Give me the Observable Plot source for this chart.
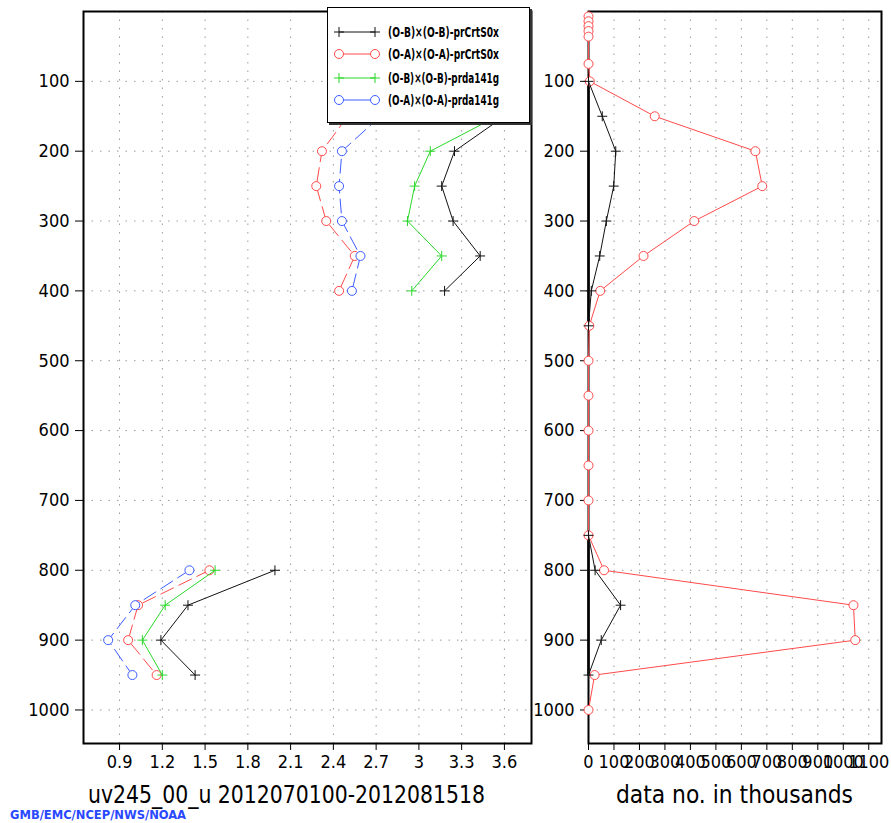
<!DOCTYPE html>
<html>
<head>
<meta charset="utf-8">
<script src="https://cdn.jsdelivr.net/npm/d3@7"></script>
<script src="https://cdn.jsdelivr.net/npm/@observablehq/plot@0.6"></script>
<style>
  html, body { margin: 0; padding: 0; background: #fff; }
  body { width: 891px; height: 823px; position: relative; overflow: hidden; }
  #left, #right, #legend { position: absolute; top: 0; }
  #left { left: 0; }
  #right { left: 500px; }
  #legend { left: 327px; top: 7px; width: 201px; height: 114px; background: #fff;
            border: 1px solid #000; box-shadow: 2px 2px 0 #333; }
  svg { overflow: visible; }
</style>
</head>
<body>
<div id="left"></div>
<div id="right"></div>
<div id="legend"></div>
<script>
// ---------------- data ----------------
const yTicks = [100, 200, 300, 400, 500, 600, 700, 800, 900, 1000];
const xTicksLeft = [0.9, 1.2, 1.5, 1.8, 2.1, 2.4, 2.7, 3, 3.3, 3.6];
const xTicksRight = [0, 100, 200, 300, 400, 500, 600, 700, 800, 900, 1000, 1100];

const levelsLeft = [150, 200, 250, 300, 350, 400, 800, 850, 900, 950];
const obPrCrt = [3.60, 3.25, 3.16, 3.24, 3.43, 3.18, 1.99, 1.38, 1.19, 1.43];
const oaPrCrt = [2.50, 2.32, 2.28, 2.35, 2.55, 2.44, 1.53, 1.03, 0.96, 1.16];
const obPrda  = [3.55, 3.08, 2.97, 2.92, 3.16, 2.95, 1.57, 1.22, 1.06, 1.20];
const oaPrda  = [2.73, 2.46, 2.44, 2.46, 2.59, 2.53, 1.39, 1.01, 0.82, 0.99];

const levelsRed = [7, 14, 21, 28, 36, 75, 100, 150, 200, 250, 300, 350, 400, 450, 500,
                   550, 600, 650, 700, 750, 800, 850, 900, 950, 1000];
const countRed  = [0, 0, 0, 0, 0, 0, 5, 260, 655, 682, 415, 216, 46, 3, 0,
                   0, 0, 0, 0, 0, 61, 1040, 1047, 24, 0];
const levelsBlack = [100, 150, 200, 250, 300, 350, 400, 450, 750, 800, 850, 900, 950];
const countBlack  = [0, 54, 107, 99, 70, 44, 11, 0, 0, 26, 126, 50, 0];
const countZero   = [0, 0, 0, 0, 0, 0, 0, 0, 0, 0, 0, 0, 0];

const seriesNames = ["(O-B)×(O-B)-prCrtS0x", "(O-A)×(O-A)-prCrtS0x",
                     "(O-B)×(O-B)-prda141g", "(O-A)×(O-A)-prda141g"];
const seriesColors = ["#111111", "#ff4a4a", "#2ad82a", "#3d5cff"];
const seriesSymbols = ["plus", "circle", "plus", "circle"];
const seriesDash = [null, "14,6", null, "14,6"];

const xTitleLeft = "uv245_00_u 2012070100-2012081518";
const xTitleRight = "data no. in thousands";
const caption = "GMB/EMC/NCEP/NWS/NOAA";

// ---------------- helpers ----------------
const FONT = '"Liberation Sans Narrow","DejaVu Sans Condensed","DejaVu Sans",sans-serif';
const part = p => (p < 600 ? "upper" : "lower");
const leftValues = [obPrCrt, oaPrCrt, obPrda, oaPrda];
const leftRows = leftValues.map((vals, i) =>
  levelsLeft.map((p, j) => ({p, v: vals[j], part: part(p), s: i})));

const gridStyle = {stroke: "#9a9a9a", strokeOpacity: 1, strokeDasharray: "1.5,7"};
const PLUS_R = 3.3;

function seriesMarks(rows, i) {
  const c = seriesColors[i];
  const marks = [Plot.line(rows, {x: "v", y: "p", z: "part", stroke: c, strokeWidth: 1,
    strokeDasharray: seriesDash[i] || undefined})];
  if (seriesSymbols[i] === "plus") {
    marks.push(Plot.dot(rows, {x: "v", y: "p", symbol: "plus", r: PLUS_R, stroke: c, strokeWidth: 1}));
  } else {
    marks.push(Plot.dot(rows, {x: "v", y: "p", r: 4.5, stroke: c, fill: "white", strokeWidth: 1}));
  }
  return marks;
}

// ---------------- left panel ----------------
const left = Plot.plot({
  width: 560, height: 823,
  marginLeft: 83, marginRight: 29, marginTop: 11, marginBottom: 80,
  style: {fontFamily: FONT, fontSize: "18px", color: "#000", background: "transparent", overflow: "visible"},
  x: {domain: [0.647, 3.79]},
  y: {domain: [0, 1048], reverse: true},
  marks: [
    Plot.gridX({ticks: xTicksLeft, ...gridStyle}),
    Plot.gridY({ticks: yTicks, ...gridStyle}),
    Plot.axisX({ticks: xTicksLeft, tickSize: 7, tickPadding: 5, label: null, tickFormat: d => String(d)}),
    Plot.axisY({ticks: yTicks, tickSize: 8, tickPadding: 6, label: null, tickFormat: d => String(d)}),
    ...leftRows.flatMap((rows, i) => seriesMarks(rows, i)),
    Plot.frame({stroke: "#000", strokeWidth: 2})
  ]
});
document.getElementById("left").appendChild(left);

// ---------------- right panel ----------------
const redRows = levelsRed.map((p, j) => ({p, v: countRed[j], part: "all"}));
const blackRows = levelsBlack.map((p, j) => ({p, v: countBlack[j], part: part(p)}));
const zeroRows = levelsBlack.map((p, j) => ({p, v: countZero[j], part: part(p)}));

const right = Plot.plot({
  width: 391, height: 823,
  marginLeft: 88, marginRight: 10, marginTop: 11, marginBottom: 80,
  style: {fontFamily: FONT, fontSize: "18px", color: "#000", background: "transparent", overflow: "visible"},
  x: {domain: [0, 1150]},
  y: {domain: [0, 1048], reverse: true},
  marks: [
    Plot.gridX({ticks: xTicksRight.slice(1), ...gridStyle}),
    Plot.gridY({ticks: yTicks, ...gridStyle}),
    Plot.axisX({ticks: xTicksRight, tickSize: 7, tickPadding: 5, label: null, tickFormat: d => String(d)}),
    Plot.axisY({ticks: yTicks, tickSize: 8, tickPadding: 6, label: null, tickFormat: d => String(d)}),
    Plot.frame({stroke: "#000", strokeWidth: 2}),
    Plot.line(zeroRows, {x: "v", y: "p", z: "part", stroke: "#000", strokeWidth: 2.5}),
    Plot.line(redRows, {x: "v", y: "p", stroke: seriesColors[1], strokeWidth: 1}),
    Plot.dot(redRows, {x: "v", y: "p", r: 4.5, stroke: seriesColors[1], fill: "white", strokeWidth: 1}),
    Plot.line(blackRows, {x: "v", y: "p", z: "part", stroke: seriesColors[0], strokeWidth: 1}),
    Plot.dot(blackRows, {x: "v", y: "p", symbol: "plus", r: PLUS_R, stroke: seriesColors[0], strokeWidth: 1})
  ]
});
document.getElementById("right").appendChild(right);

// ---------------- titles ----------------
function addText(svg, txt, x, y, len, size, fill, weight) {
  d3.select(svg).append("text")
    .attr("x", x).attr("y", y)
    .attr("text-anchor", "start")
    .attr("textLength", len).attr("lengthAdjust", "spacingAndGlyphs")
    .attr("font-family", FONT).attr("font-size", size)
    .attr("font-weight", weight || "normal")
    .attr("fill", fill).text(txt);
}
addText(left, xTitleLeft, 88, 803, 397, 25, "#000");
addText(left, caption, 10, 819, 176, 13, "#2a48ff", "bold");
addText(right, xTitleRight, 116, 803, 237, 25, "#000");

// ---------------- legend ----------------
const lg = d3.select("#legend").append("svg").attr("width", 201).attr("height", 114);
const rowY = [24, 46, 70, 92];
seriesNames.forEach((name, i) => {
  const y = rowY[i], c = seriesColors[i];
  lg.append("line").attr("x1", 11).attr("x2", 47).attr("y1", y).attr("y2", y)
    .attr("stroke", c).attr("stroke-width", 1);
  [11, 47].forEach(x => {
    if (seriesSymbols[i] === "plus") {
      lg.append("path").attr("d", `M${x - 5},${y}H${x + 5}M${x},${y - 5}V${y + 5}`)
        .attr("stroke", c).attr("fill", "none");
    } else {
      lg.append("circle").attr("cx", x).attr("cy", y).attr("r", 4.5)
        .attr("stroke", c).attr("fill", "white");
    }
  });
  lg.append("text").attr("x", 60).attr("y", y + 5)
    .attr("text-anchor", "start")
    .attr("textLength", 111).attr("lengthAdjust", "spacingAndGlyphs")
    .attr("font-family", FONT).attr("font-size", 14).attr("font-weight", "bold")
    .attr("fill", "#000").text(name);
});
</script>
</body>
</html>
